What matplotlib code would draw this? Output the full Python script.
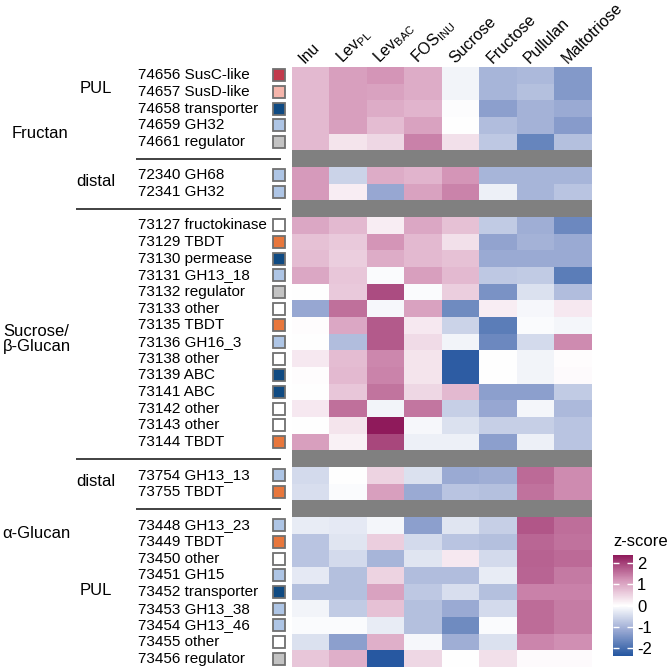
import numpy as np
import matplotlib
matplotlib.use("Agg")
import matplotlib.pyplot as plt
from matplotlib.colors import LinearSegmentedColormap
from matplotlib.patches import Rectangle

plt.rcParams['font.family'] = ['Liberation Sans', 'DejaVu Sans']
plt.rcParams['mathtext.default'] = 'regular'

conditions = ['Inu', r'Lev$_{PL}$', r'Lev$_{BAC}$', r'FOS$_{INU}$',
              'Sucrose', 'Fructose', 'Pullulan', 'Maltotriose']

# ---- gene labels and categories per block ----
fructan_pul_genes = ['74656 SusC-like', '74657 SusD-like', '74658 transporter',
                     '74659 GH32', '74661 regulator']
fructan_pul_cat = ['susc', 'susd', 'transport', 'gh', 'regulator']
fructan_pul = [
    [0.80, 1.10, 1.20, 0.95, -0.15, -1.00, -0.95, -1.40],
    [0.80, 1.10, 1.05, 0.95, -0.15, -1.00, -0.85, -1.40],
    [0.80, 1.10, 0.95, 0.85, -0.02, -1.30, -1.05, -1.15],
    [0.80, 1.10, 0.75, 1.05, 0.00, -0.90, -1.05, -1.35],
    [0.80, 0.30, 0.45, 1.40, 0.35, -0.75, -1.70, -0.85],
]

fructan_distal_genes = ['72340 GH68', '72341 GH32']
fructan_distal_cat = ['gh', 'gh']
fructan_distal = [
    [1.15, -0.60, 0.95, 0.85, 1.20, -1.00, -1.00, -1.00],
    [1.15, 0.20, -1.20, 1.05, 1.37, -0.20, -1.00, -0.80],
]

sucrose_genes = ['73127 fructokinase', '73129 TBDT', '73130 permease',
                 '73131 GH13_18', '73132 regulator', '73133 other',
                 '73135 TBDT', '73136 GH16_3', '73138 other', '73139 ABC',
                 '73141 ABC', '73142 other', '73143 other', '73144 TBDT']
sucrose_cat = ['other', 'tbdt', 'transport', 'gh', 'regulator', 'other',
               'tbdt', 'gh', 'other', 'transport', 'transport', 'other',
               'other', 'tbdt']
sucrose_glucan = [
    [1.00, 0.80, 0.20, 1.00, 0.70, -0.70, -1.10, -1.65],
    [0.70, 0.60, 1.20, 0.80, 0.35, -1.25, -1.05, -1.15],
    [0.75, 0.55, 0.95, 0.80, 0.70, -1.15, -1.15, -1.15],
    [1.00, 0.65, -0.05, 1.10, 0.80, -0.75, -0.70, -1.80],
    [0.00, 0.60, 1.90, -0.05, 0.55, -1.50, -0.40, -0.90],
    [-1.20, 1.56, -0.10, 1.05, -1.60, 0.20, -0.10, 0.25],
    [0.02, 1.00, 1.78, 0.25, -0.60, -1.80, -0.05, -0.12],
    [0.00, -0.90, 1.78, 0.40, -0.15, -1.65, -0.50, 1.30],
    [0.25, 0.75, 1.34, 0.30, -2.30, 0.00, -0.15, 0.03],
    [0.03, 0.80, 1.37, 0.30, -2.30, 0.00, -0.15, 0.05],
    [0.00, 0.65, 1.53, 0.45, 0.80, -1.30, -1.30, -0.70],
    [0.25, 1.56, -0.15, 1.50, -0.65, -1.20, -0.12, -0.95],
    [0.00, 0.30, 2.40, -0.10, -0.40, -0.65, -0.65, -0.80],
    [1.10, 0.15, 1.95, -0.20, -0.20, -1.30, -0.20, -0.80],
]

alpha_distal_genes = ['73754 GH13_13', '73755 TBDT']
alpha_distal_cat = ['gh', 'tbdt']
alpha_distal = [
    [-0.50, 0.00, 0.50, -0.40, -1.15, -1.10, 1.62, 1.30],
    [-0.45, -0.05, 1.10, -1.15, -0.80, -0.85, 1.55, 1.30],
]

alpha_pul_genes = ['73448 GH13_23', '73449 TBDT', '73450 other', '73451 GH15',
                   '73452 transporter', '73453 GH13_38', '73454 GH13_46',
                   '73455 other', '73456 regulator']
alpha_pul_cat = ['gh', 'tbdt', 'other', 'gh', 'transport', 'gh', 'gh',
                 'other', 'regulator']
alpha_pul = [
    [-0.25, -0.30, -0.12, -1.30, -0.35, -0.65, 1.80, 1.58],
    [-0.80, -0.35, 0.55, -0.50, -0.80, -0.85, 1.65, 1.55],
    [-0.80, -0.50, -1.00, -0.35, 0.25, -0.50, 1.70, 1.63],
    [-0.30, -0.85, 0.50, -0.90, -0.90, -0.25, 1.67, 1.48],
    [-0.85, -0.85, 1.05, -0.75, -0.45, -0.85, 1.40, 1.40],
    [-0.15, -0.70, 0.70, -0.85, -1.15, -0.50, 1.60, 1.45],
    [-0.05, -0.05, -0.25, -0.85, -1.60, -0.05, 1.60, 1.45],
    [-0.40, -1.30, 0.90, -0.10, -1.10, -0.40, 1.36, 1.27],
    [0.65, 0.90, -2.35, 0.45, 0.00, 0.35, 0.05, 0.05],
]

cat_colors = {'susc': '#c23a4c', 'susd': '#f5b5ab', 'transport': '#0f4a82',
              'gh': '#aec5e5', 'regulator': '#c3c3c3', 'other': '#ffffff',
              'tbdt': '#e8773c'}

blocks = [fructan_pul, fructan_distal, sucrose_glucan, alpha_distal, alpha_pul]
block_genes = [fructan_pul_genes, fructan_distal_genes, sucrose_genes,
               alpha_distal_genes, alpha_pul_genes]
block_cats = [fructan_pul_cat, fructan_distal_cat, sucrose_cat,
              alpha_distal_cat, alpha_pul_cat]

rows, genes, cats, gap_rows = [], [], [], []
for bi, (b, g, c) in enumerate(zip(blocks, block_genes, block_cats)):
    if bi > 0:
        gap_rows.append(len(rows))
        rows.append([np.nan] * len(conditions))
        genes.append(None)
        cats.append(None)
    rows.extend(b)
    genes.extend(g)
    cats.extend(c)
mat = np.array(rows, dtype=float)
nrow, ncol = mat.shape

cmap = LinearSegmentedColormap.from_list(
    'bwm', [(0.0, '#2456a0'), (0.25, '#97a7d2'), (0.5, '#ffffff'),
            (0.75, '#d597b9'), (1.0, '#8f1a5b')])
cmap.set_bad('#808080')
vmin, vmax = -2.4, 2.4

W = 667.0
fig = plt.figure(figsize=(6.67, 6.67), dpi=100)
hx0, hx1, htop, hbot = 291.5, 591.5, 67.0, 667.0
ax = fig.add_axes([hx0 / W, 1 - hbot / W, (hx1 - hx0) / W, (hbot - htop) / W])
im = ax.imshow(np.ma.masked_invalid(mat), cmap=cmap, vmin=vmin, vmax=vmax,
               aspect='auto', interpolation='nearest',
               extent=(0, ncol, nrow, 0))
ax.set_xlim(0, ncol)
ax.set_ylim(nrow, 0)
ax.axis('off')
for j, name in enumerate(conditions):
    ax.text(j + 0.36, -0.18, name, rotation=45, rotation_mode='anchor',
            ha='left', va='baseline', fontsize=11.5, clip_on=False)

# left label area, x in pixels
lax = fig.add_axes([0, 1 - hbot / W, hx0 / W, (hbot - htop) / W])
lax.set_xlim(0, hx0)
lax.set_ylim(nrow, 0)
lax.axis('off')
sq = 12.0
rh = (hbot - htop) / nrow
for i, (g, c) in enumerate(zip(genes, cats)):
    if g is None:
        continue
    lax.text(138, i + 0.5, g, ha='left', va='center', fontsize=11)
    h = sq / rh
    lax.add_patch(Rectangle((273, i + 0.5 - h / 2), sq, h,
                            facecolor=cat_colors[c], edgecolor='#707070',
                            lw=1.3))

# separator lines
line_x0 = [136, 76, 76, 136]
for r, x0 in zip(gap_rows, line_x0):
    lax.plot([x0, 281], [r + 0.5, r + 0.5], color='#333333', lw=1.3,
             solid_capstyle='butt')

gfs = 12
lax.text(12, 3.96, 'Fructan', ha='left', va='center', fontsize=gfs)
lax.text(80, 1.3, 'PUL', ha='left', va='center', fontsize=gfs)
lax.text(76, 6.9, 'distal', ha='left', va='center', fontsize=gfs)
lax.text(3, 16.3, 'Sucrose/\nβ-Glucan', ha='left', va='center', fontsize=gfs,
         linespacing=1.0)
lax.text(76, 24.85, 'distal', ha='left', va='center', fontsize=gfs)
lax.text(2, 28.0, 'α-Glucan', ha='left', va='center', fontsize=gfs)
lax.text(80, 31.4, 'PUL', ha='left', va='center', fontsize=gfs)

# colorbar
cax = fig.add_axes([613 / W, 1 - 656 / W, 20 / W, 101 / W])
cb = fig.colorbar(im, cax=cax, ticks=[-2, -1, 0, 1, 2])
cb.outline.set_visible(False)
cax.yaxis.set_ticks_position('both')
cax.tick_params(direction='in', color='white', length=4, width=1,
                labelsize=12, pad=3, labelleft=False, labelright=True)
cax.set_yticklabels(['-2', '-1', '0', '1', '2'])
cax.text(0, 1.06, 'z-score', transform=cax.transAxes, ha='left',
         va='bottom', fontsize=12)

fig.savefig('out.png', dpi=100)
